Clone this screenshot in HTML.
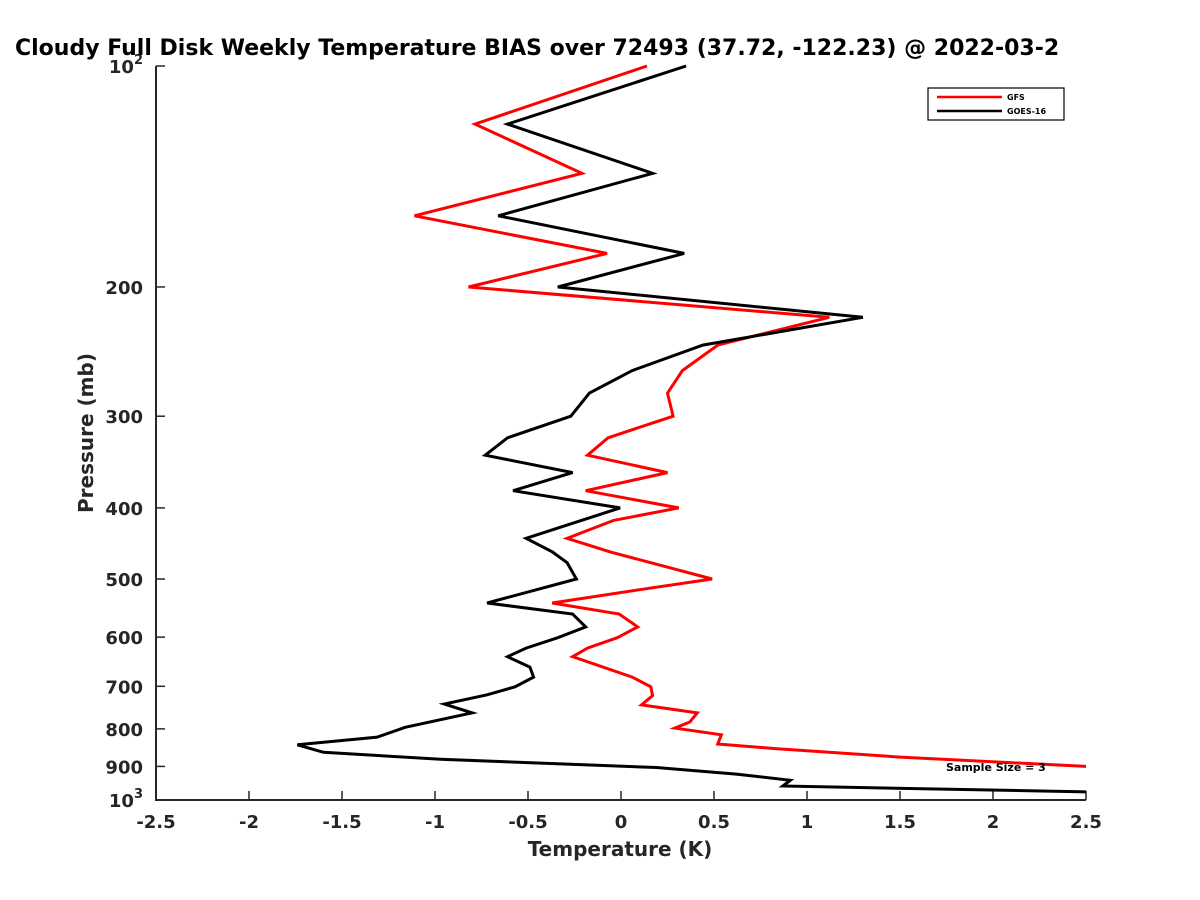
<!DOCTYPE html>
<html><head><meta charset="utf-8"><style>
body{margin:0;background:#fff;overflow:hidden;}
svg{display:block;font-family:"DejaVu Sans","Liberation Sans",sans-serif;}
</style></head><body>
<svg id="chart" width="1200" height="900" viewBox="0 0 1200 900">
<text x="15" y="55" font-size="22" font-weight="bold" fill="#000">Cloudy Full Disk Weekly Temperature BIAS over 72493 (37.72, -122.23) @ 2022-03-2</text>
<g id="axes"></g>
<g id="series"></g>
<text x="620" y="856" font-size="20" font-weight="bold" text-anchor="middle" fill="#262626">Temperature (K)</text>
<text transform="translate(93,433) rotate(-90)" font-size="20" font-weight="bold" text-anchor="middle" fill="#262626">Pressure (mb)</text>
<g>
<rect x="928" y="88" width="136" height="32" fill="#fff" stroke="#000" stroke-width="1.2"/>
<line x1="937" y1="97" x2="1002" y2="97" stroke="#f00" stroke-width="2.5"/>
<text x="1007" y="100" font-size="8" font-weight="bold">GFS</text>
<line x1="937" y1="111" x2="1002" y2="111" stroke="#000" stroke-width="2.5"/>
<text x="1007" y="114" font-size="8" font-weight="bold">GOES-16</text>
</g>
<g id="series-top"></g>
</svg>
<script>
const gfsTemp=[0.14,-0.785,-0.21,-1.11,-0.075,-0.82,1.12,0.52,0.33,0.25,0.28,-0.07,-0.18,0.25,-0.19,0.31,-0.04,-0.29,-0.06,0.49,0.10,-0.37,-0.01,0.09,-0.02,-0.18,-0.26,0.06,0.16,0.17,0.11,0.41,0.37,0.29,0.54,0.52,0.83,1.5,2.5];
const gfsPres=[100,120,140,160,180,200,220,240,260,279,300,321,339,358,379,400,416,440,459,500,517,539,558,581,601,621,638,680,701,721,742,761,783,798,815,839,851,874,900];
const goesTemp=[0.35,-0.61,0.17,-0.66,0.34,-0.34,1.30,0.44,0.06,-0.17,-0.27,-0.61,-0.73,-0.26,-0.58,-0.005,-0.51,-0.37,-0.29,-0.24,-0.72,-0.26,-0.19,-0.34,-0.51,-0.61,-0.49,-0.47,-0.57,-0.72,-0.95,-0.80,-1.16,-1.31,-1.74,-1.60,-0.97,0.19,0.62,0.91,0.87,2.5];
const goesPres=[100,120,140,160,180,200,220,240,260,279,300,321,339,358,379,400,440,459,475,500,539,558,581,601,621,638,659,680,701,719,740,761,796,821,841,861,880,903,922,940,957,975];
const xTicks=[-2.5,-2,-1.5,-1,-0.5,0,0.5,1,1.5,2,2.5];
const xTickLabels=["-2.5","-2","-1.5","-1","-0.5","0","0.5","1","1.5","2","2.5"];
const yTicks=[100,200,300,400,500,600,700,800,900,1000];
const yTickLabels=["10^2","200","300","400","500","600","700","800","900","10^3"];

const NS="http://www.w3.org/2000/svg";
const X0=156,X1=1086,Y0=66,Y1=800;
function sx(t){return X0+(t+2.5)/5*(X1-X0);}
function sy(p){return Y0+Math.log10(p/100)*(Y1-Y0);}
function mk(tag,attrs,parent){const e=document.createElementNS(NS,tag);for(const k in attrs)e.setAttribute(k,attrs[k]);parent.appendChild(e);return e;}
const axes=document.getElementById('axes');
const ax=mk('path',{d:`M${X0},${Y0}V${Y1}H${X1}`,fill:'none',stroke:'#262626','stroke-width':2},axes);


xTicks.forEach((t,i)=>{
  const x=sx(t);
  const tk=mk('line',{x1:x,y1:Y1,x2:x,y2:Y1-9,stroke:'#262626','stroke-width':1.5},axes);
  
  
  const tx=mk('text',{x:x,y:Y1+28,'font-size':18,'font-weight':'bold','text-anchor':'middle',fill:'#262626'},axes);
  tx.textContent=xTickLabels[i];
  
  
});
yTicks.forEach((p,i)=>{
  const y=sy(p);
  const tk=mk('line',{x1:X0,y1:y,x2:X0+9,y2:y,stroke:'#262626','stroke-width':1.5},axes);
  
  
  const lab=yTickLabels[i];
  const tx=mk('text',{x:143,y:y+7,'font-size':18,'font-weight':'bold','text-anchor':'end',fill:'#262626'},axes);
  
  
  if(lab.indexOf('^')>=0){
    const [b,e]=lab.split('^');
    tx.textContent=b;
    const ts=document.createElementNS(NS,'tspan');
    ts.setAttribute('dy','-9');ts.setAttribute('font-size','13');ts.textContent=e;
    tx.appendChild(ts);
  } else tx.textContent=lab;
});
const series=document.getElementById('series');
const clip=mk('clipPath',{id:'plotclip'},series);
mk('rect',{x:X0,y:Y0-5,width:X1-X0,height:Y1-Y0+5},clip);
function draw(temps,pres,color,name){
  const d=temps.map((t,i)=>(i?'L':'M')+sx(t).toFixed(1)+','+sy(pres[i]).toFixed(1)).join('');
  const p=mk('path',{d:d,fill:'none',stroke:color,'stroke-width':3,'stroke-linejoin':'miter','clip-path':'url(#plotclip)'},series);
  
  
}
draw(gfsTemp,gfsPres,'#ff0000','gfs-line');
draw(goesTemp,goesPres,'#000000','goes16-line');
const note=mk('text',{x:946,y:771,'font-size':11,'font-weight':'bold'},document.getElementById('chart'));
note.textContent='Sample Size = 3';


</script>
</body></html>
